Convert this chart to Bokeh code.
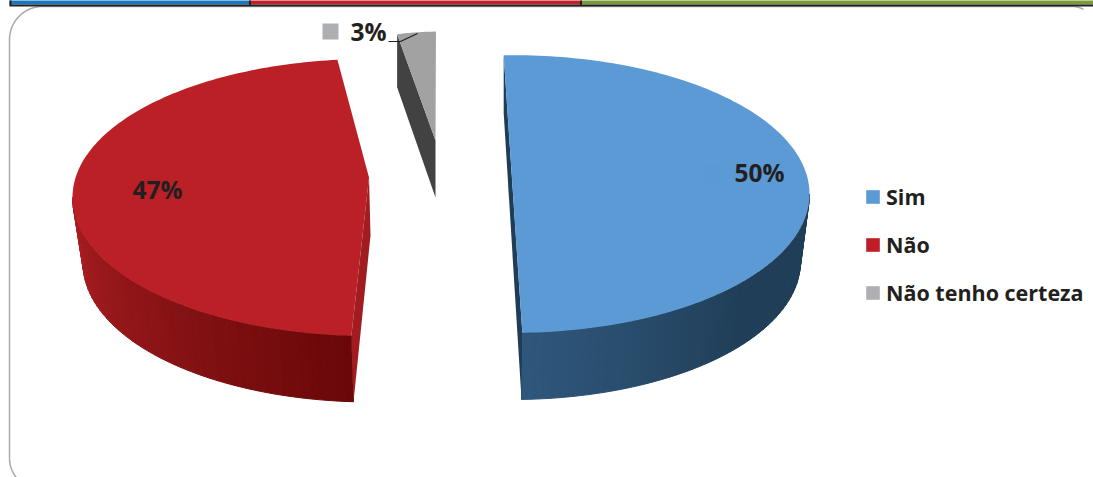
import numpy as np
from bokeh.plotting import figure
from bokeh.embed import file_html
from bokeh.resources import INLINE
from bokeh.core.properties import value
from bokeh.models import Legend, LegendItem

# ---- data ----
categories = ["Sim", "Não", "Não tenho certeza"]
shares = [50, 47, 3]
share_labels = ["50%", "47%", "3%"]
top_colors = ["#5B9AD4", "#BA2025", "#A1A2A1"]
key_colors = ["#5B9AD4", "#BE1E26", "#AEAFB2"]
faint_keys = ["#5A99D3", "#BA2126"]
band_colors = ["#1878BD", "#C1202A", "#7A9A3A"]
band_edges = [9, 249, 580, 1100]

FONT = value("Open Sans")
INK = "#231F20"
W, H = 1093, 477
START = -1.8

p = figure(width=W, height=H, x_range=(0, W), y_range=(H, 0), output_backend="svg",
           toolbar_location=None, min_border=0, outline_line_color=None,
           x_axis_type=None, y_axis_type=None, background_fill_color="white",
           border_fill_color="white")
p.grid.visible = False
p.styles = {"position": "absolute", "left": "0px", "top": "0px"}


def ell(g, deg):
    t = np.radians(np.asarray(deg, dtype=float))
    return g["cx"] + g["rx"] * np.sin(t), g["cy"] - g["ry"] * np.cos(t)


def lerp_hex(a, b, f):
    ca = [int(a[i:i + 2], 16) for i in (1, 3, 5)]
    cb = [int(b[i:i + 2], 16) for i in (1, 3, 5)]
    return "#%02x%02x%02x" % tuple(round(x + (y - x) * f) for x, y in zip(ca, cb))


# slice sweeps come from the values
sweeps = [360 * s / sum(shares) for s in shares]
t0 = [START, START + sweeps[0], START + sweeps[0] + sweeps[1]]
t1 = [a + b for a, b in zip(t0, sweeps)]

# ---- frame and header band ----
r = 33
a = np.radians(np.linspace(180, 270, 20))
fx = np.concatenate([[9], 9 + r + r * np.cos(a), [1072], 1072 + 22 * np.cos(np.radians(np.linspace(270, 300, 8)))])
fy = np.concatenate([[458], 6 + r + r * np.sin(a), [6], 28 + 22 * np.sin(np.radians(np.linspace(270, 300, 8)))])
p.line(fx, fy, line_color="#A9A9A9", line_width=1.5)
a2 = np.radians(np.linspace(180, 120, 10))
p.line(9 + 30 + 30 * np.cos(a2), 458 + 30 * np.sin(a2), line_color="#A9A9A9", line_width=1.5)

p.quad(left=band_edges[:-1], right=band_edges[1:], top=[-2] * 3, bottom=[4] * 3,
       fill_color=band_colors, line_color=None)
p.line([10, 10], [-2, 5], line_color="#222222", line_width=2)
p.line([249.5, 249.5], [-2, 5], line_color="#222222", line_width=2)
p.line([580.5, 580.5], [-2, 5], line_color="#222222", line_width=2)
p.line([9, W], [5, 5], line_color="#222222", line_width=2)

# ---- blue slice ----
bt = dict(cx=512.5, cy=193.5, rx=296.5, ry=138.8)
bb = dict(cx=512, cy=261, rx=288, ry=138)
n = 48
ts = np.linspace(t0[0] + sweeps[0], 90, n + 1)
for i in range(n):
    f = min(1, i / (n * 0.55))
    c = lerp_hex("#2F577C", "#203E57", f)
    ax, ay = ell(bt, ts[i:i + 2])
    ex, ey = ell(bb, ts[i:i + 2])
    p.patch(list(ax) + list(ex[::-1]), list(ay) + list(ey[::-1]), fill_color=c, line_color=c, line_width=1)
tx, ty = ell(bt, [t0[0], t1[0]])
bx, by = ell(bb, [t0[0], t1[0]])
p.patch([tx[0], tx[0], bx[1], tx[1]], [ty[0], ty[0] + 58, by[1], ty[1]], fill_color="#1F3D56", line_color=None)
xs, ys = ell(bt, np.linspace(t0[0], t1[0], 160))
p.patch(xs, ys, fill_color=top_colors[0], line_color=None)

# ---- red slice ----
RED_SKEW_A = 5.3
RED_SKEW_B = 6.4
rt = dict(cx=369, cy=197, rx=297, ry=138.5)
rb = dict(cx=370.6, cy=263, rx=288, ry=138.5)
apex = (368.5, 177)
rs = t0[1] + RED_SKEW_A
re_ = t1[1] + RED_SKEW_B
ts = np.linspace(rs, 270, n + 1)
for i in range(n):
    f = i / n
    c = lerp_hex("#6A0809", "#A81E21", min(1, f * 1.05))
    ax, ay = ell(rt, ts[i:i + 2])
    ex, ey = ell(rb, ts[i:i + 2])
    p.patch(list(ax) + list(ex[::-1]), list(ay) + list(ey[::-1]), fill_color=c, line_color=c, line_width=1)
sx, sy = ell(rt, [rs])
ex0, ey0 = ell(rb, [rs])
p.patch([sx[0], ex0[0], apex[0] + 1.5, apex[0]], [sy[0], ey0[0], apex[1] + 58, apex[1]],
        fill_color="#A01C20", line_color=None)
xs, ys = ell(rt, np.linspace(rs, re_, 160))
p.patch(list(xs) + [apex[0]], list(ys) + [apex[1]], fill_color=top_colors[1], line_color=None)

# ---- grey slice ----
gt = dict(cx=442, cy=141, rx=208, ry=110)
ax0, ay0 = ell(gt, [t0[2], t1[2]])
p.patch([ax0[0], ax0[0], 435, 435], [ay0[0], ay0[0] + 53, 197, 140], fill_color="#424242", line_color=None)
xs, ys = ell(gt, np.linspace(t0[2], t1[2], 20))
p.patch(list(xs) + [435], list(ys) + [140], fill_color=top_colors[2], line_color=None)

# ---- data labels ----
p.quad(left=[704, 100], right=[720, 116], top=[165, 183], bottom=[181, 199], fill_color=faint_keys, line_color=None)
p.text(x=[784, 182, 386], y=[172, 189, 31], text=share_labels, text_font=FONT, text_font_style="bold",
       text_font_size="24.5px", text_color=INK, text_align="right", text_baseline="middle")
p.quad(left=[322], right=[338], top=[23], bottom=[39], fill_color=key_colors[2], line_color=None)
p.line([388, 400, 417], [41, 41, 33], line_color=INK, line_width=1.2)

# ---- legend ----
items = []
for name, col in zip(categories, key_colors):
    rr = p.quad(left=[np.nan], right=[np.nan], top=[np.nan], bottom=[np.nan], fill_color=col, line_color=None)
    items.append(LegendItem(label=value(name), renderers=[rr]))
leg = Legend(items=items, location=(864, 170), orientation="vertical", background_fill_alpha=0,
             border_line_color=None, padding=0, margin=0, spacing=19, glyph_width=17, glyph_height=17,
             label_height=20, label_standoff=5, label_text_font="Open Sans", label_text_font_style="bold",
             label_text_font_size="21.5px", label_text_color=INK)
p.add_layout(leg)

open("out.html", "w").write(file_html(p, INLINE))
